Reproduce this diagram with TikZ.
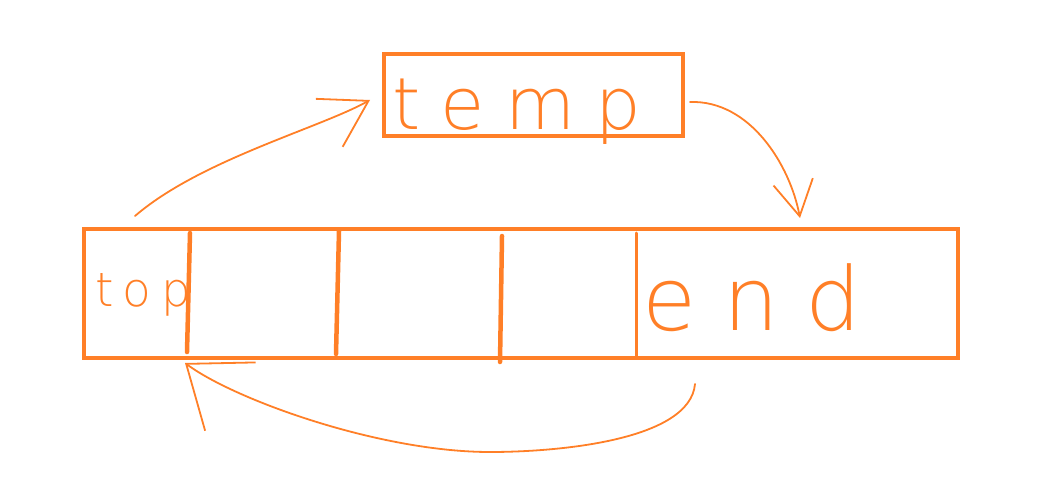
\documentclass[tikz,border=0pt]{standalone}
\usepackage{fontspec}
\usepackage{tikz}
\usetikzlibrary{arrows.meta,calc}
\newfontfamily\handfont{DejaVu Sans ExtraLight}
\definecolor{paintorange}{RGB}{255,127,39}

\begin{document}
\begin{tikzpicture}[x=1pt,y=-1pt,
    box/.style={draw=paintorange,line width=4pt},
    divider/.style={draw=paintorange,line cap=round},
    swoop/.style={draw=paintorange,line width=1.8pt,line cap=round,line join=round},
    word/.style={text=paintorange,anchor=base,inner sep=0pt}]
    \useasboundingbox (0,0) rectangle (1043,489);
    \node[box,minimum width=299pt,minimum height=82pt] (temp) at (533.5,95) {};
    \node[box,minimum width=874pt,minimum height=129pt] (arr) at (521,293.5) {};
    \foreach \xa/\ya/\xb/\yb/\w in {190/233/187/352/4.5, 339/231/336/354/4.5, 502/236/500/362/4.5, 636/233/636/356/3}
        \draw[divider,line width=\w pt] (\xa,\ya) -- (\xb,\yb);
    \node[word,font=\handfont\fontsize{72}{72}\selectfont\addfontfeature{LetterSpace=28}] (tempword) at (517,130) {temp};
    \node[word,font=\handfont\fontsize{47}{47}\selectfont\addfontfeature{LetterSpace=20}] (topword) at (143,306) {top};
    \node[word,font=\handfont\fontsize{88}{88}\selectfont\addfontfeature{LetterSpace=30}] (endword) at (752,330) {end};
    % arrows between top, temp and end
    \coordinate (upstart) at ($(arr.north west)+(53,-11)$);
    \coordinate (upend) at ($(temp.west)+(-12,5)$);
    \coordinate (downstart) at ($(temp.east)+(5,7)$);
    \coordinate (downend) at (800,218);
    \coordinate (backstart) at (695,384);
    \coordinate (backend) at (185,363);
    \draw[swoop,-{Straight Barb[length=45pt,width=55pt]}] (upstart) .. controls (200,160) and (320,128) .. (upend);
    \draw[swoop,-{Straight Barb[length=35pt,width=40pt]}] (downstart) .. controls (750,100) and (790,165) .. (downend);
    \draw[swoop,-{Straight Barb[length=55pt,width=85pt]}] (backstart) .. controls (690,440) and (560,452) .. (490,452)
        .. controls (380,452) and (235,400) .. (backend);
\end{tikzpicture}
\end{document}
